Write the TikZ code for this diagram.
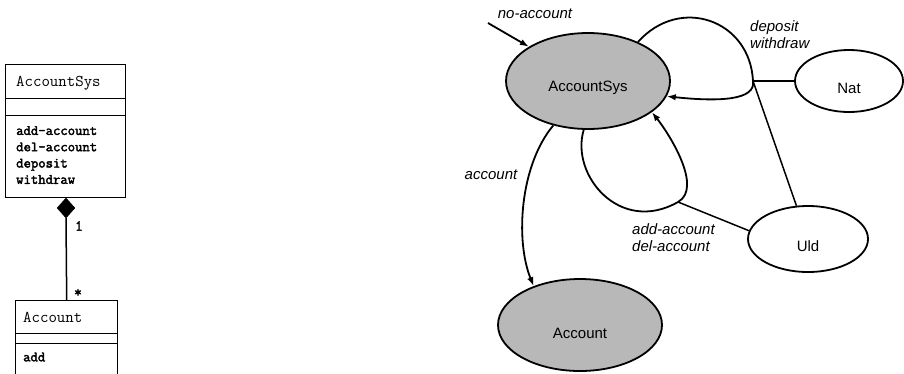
\documentclass[tikz,border=0pt]{standalone}
\usepackage{fontspec}
\setmainfont{Liberation Sans}
\setmonofont{Latin Modern Mono}[AutoFakeBold=2.5]
\usetikzlibrary{shapes.geometric,arrows.meta}
\begin{document}
\begin{tikzpicture}[x=1pt,y=-1pt,
  st/.style={ellipse, draw, line width=1.8pt, inner sep=0pt},
  shaded/.style={fill=black!28},
  lab/.style={font=\fontsize{15}{17}\selectfont\itshape, inner sep=0pt},
  nm/.style={font=\fontsize{15}{17}\selectfont, inner sep=0pt},
  conn/.style={line width=1.8pt, -{Latex[length=9pt,width=6.5pt]}},
  curve/.style={line width=1.8pt},
  plain/.style={line width=1.5pt},
  umlbox/.style={draw, line width=1.4pt, anchor=north west, inner sep=0pt, minimum width=120pt},
  ttname/.style={font=\ttfamily\fontsize{16.4}{18}\selectfont, inner sep=0pt},
  ttops/.style={font=\ttfamily\bfseries\fontsize{14.3}{16.3}\selectfont, inner sep=0pt},
  mult/.style={font=\ttfamily\bfseries\fontsize{15}{17}\selectfont, inner sep=0pt}
  ]
\clip (0,0) rectangle (904,373);

% ---------- UML class diagram ----------
\node[umlbox, minimum height=34pt] (c1) at (5,64) {};
\node[umlbox, minimum height=17pt] (c2) at (5,98) {};
\node[umlbox, minimum height=82pt] (c3) at (5,115) {};
\node[ttname, anchor=west] (t1) at (16,83) {AccountSys};
\node[ttops, anchor=north west, align=left] (t2) at (16,126) {add-account\\del-account\\deposit\\withdraw};

\node[diamond, draw, fill=black, inner sep=0pt, minimum width=18pt, minimum height=20pt] (dia) at (66,208) {};

\node[umlbox, minimum width=102pt, minimum height=33pt] (c4) at (15,300) {};
\node[umlbox, minimum width=102pt, minimum height=10pt] (c5) at (15,333) {};
\node[umlbox, minimum width=102pt, minimum height=45pt] (c6) at (15,343) {};
\node[ttname, anchor=west] (t4) at (23,317) {Account};
\node[ttops, anchor=west] (t5) at (23,357) {add};

\draw[plain] (dia.south) -- (c4.north);
\node[mult] (m1) at (79,226) {1};
\node[mult] (m2) at (78,293) {*};

% ---------- state diagram ----------
\node[st, shaded, minimum width=164pt, minimum height=96pt,
      label={[nm,yshift=-7pt]center:AccountSys}] (AS) at (588,81) {};
\node[st, shaded, minimum width=164pt, minimum height=92pt,
      label={[nm,yshift=-8pt]center:Account}] (Acc) at (580,325) {};
\node[st, minimum width=108pt, minimum height=62pt,
      label={[nm,yshift=-7pt]center:Nat}] (Nat) at (849,81) {};
\node[st, minimum width=120pt, minimum height=66pt,
      label={[nm,yshift=-7pt]center:Uld}] (Uld) at (808,239) {};

\coordinate (na) at (488,23);
\coordinate (dw) at (753,81);
\coordinate (ad) at (678,202);

\draw[conn] (na) -- (AS);
\draw[conn] (AS.232) .. controls (520,165) and (515,240) .. (Acc.140);
\draw[curve] (AS.38) .. controls (680,-5) and (750,20) .. (dw);
\draw[conn] (dw) .. controls (756,100) and (720,102) .. (AS.-11);
\draw[curve] (AS.265) .. controls (570,175) and (620,235) .. (ad);
\draw[conn] (ad) .. controls (703,188) and (670,135) .. (AS.-26);
\draw[plain] (dw) -- (Nat);
\draw[plain] (dw) -- (Uld);
\draw[plain] (ad) -- (Uld.172);

\node[lab] (lna) at (535,14) {no-account};
\node[lab] (lacc) at (491,175) {account};
\node[lab, anchor=west, align=left] (ldw) at (750,35) {deposit\\withdraw};
\node[lab, anchor=west, align=left] (lad) at (632,238) {add-account\\del-account};
\end{tikzpicture}
\end{document}
